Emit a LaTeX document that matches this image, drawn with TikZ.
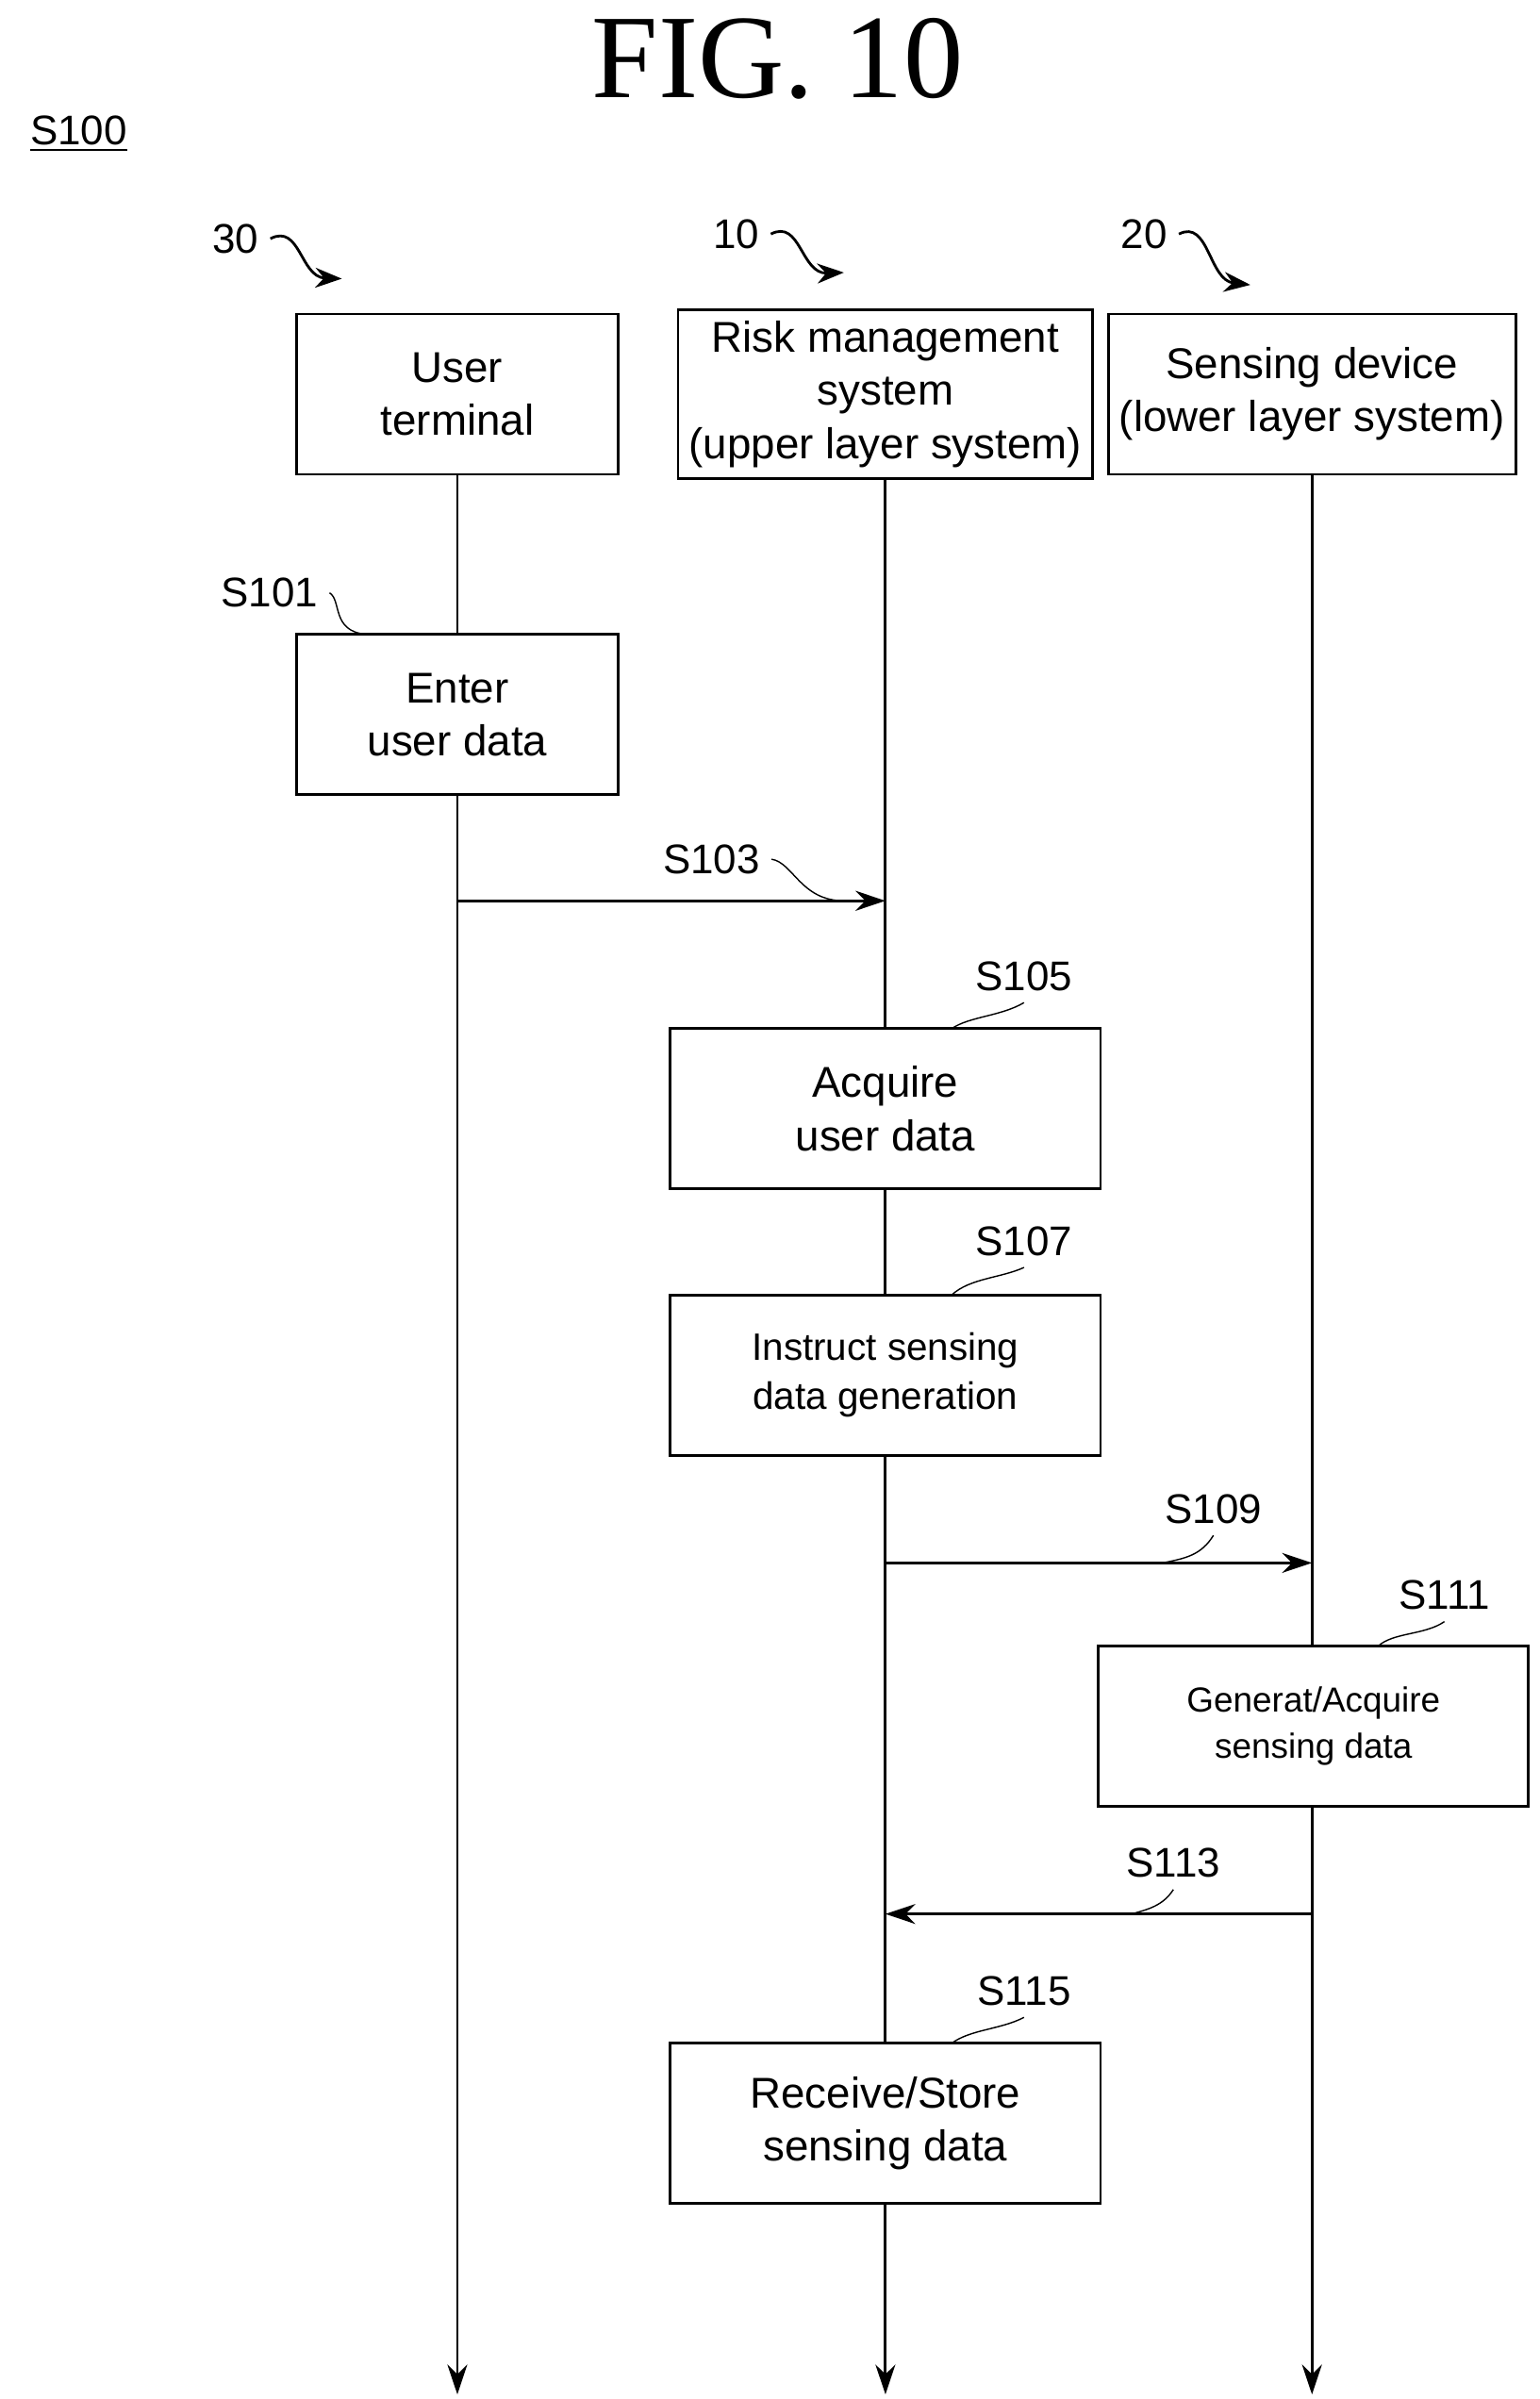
\documentclass[tikz,border=0pt]{standalone}
\usepackage{fontspec}
\setmainfont{Liberation Serif}
\setsansfont{Liberation Sans}
\usetikzlibrary{positioning, calc, arrows.meta}

\tikzset{
	box/.style={draw, thick, minimum width=3.41cm, minimum height=1.70cm, align=center, font=\sffamily\fontsize{13}{16}\selectfont},
	wbox/.style={box, minimum width=4.56cm},
	hbox/.style={box, minimum width=3.98cm},
	lab/.style={font=\sffamily\fontsize{12.5}{15}\selectfont},
	life/.style={thick, -{Stealth[length=9pt,width=6pt]}},
	msg/.style={thick, -{Stealth[length=9pt,width=6pt]}},
	lead/.style={thin}
}

\begin{document}
\begin{tikzpicture}[x=0.01633cm, y=-0.01633cm]
	\useasboundingbox (0,0) rectangle (1000,1558);
	\node[font=\fontsize{36}{40}\selectfont] (title) at (505,38) {FIG. 10};
	\node[lab, anchor=west] (s100) at (12,87) {\underline{S100}};

	% lanes
	\node[box]  (user) at (297,256) {User\\terminal};
	\node[hbox] (risk) at (575,256) {Risk management\\system\\(upper layer system)};
	\node[hbox] (sens) at (852,256) {Sensing device\\(lower layer system)};

	\node[lab] (n30) at (153,155) {30};
	\node[lab] (n10) at (478,152) {10};
	\node[lab] (n20) at (743,152) {20};
	\coordinate (p30) at (222,181);
	\coordinate (p10) at (548,177);
	\coordinate (p20) at (812,185);
	\draw[thick, -{Stealth[length=8pt,width=6pt]}] (n30.east) .. controls (195,145) and (195,180) .. (p30);
	\draw[thick, -{Stealth[length=8pt,width=6pt]}] (n10.east) .. controls (520,142) and (520,178) .. (p10);
	\draw[thick, -{Stealth[length=8pt,width=6pt]}] (n20.east) .. controls (785,142) and (785,182) .. (p20);

	\coordinate (e30) at (297,1555);
	\coordinate (e10) at (575,1555);
	\coordinate (e20) at (852,1555);
	\draw[life] (user.south) -- (e30);
	\draw[life] (risk.south) -- (e10);
	\draw[life] (sens.south) -- (e20);

	% steps
	\node[box, fill=white]  (enter) at (297,464) {Enter\\user data};
	\node[wbox, fill=white] (acq)   at (575,720) {Acquire\\user data};
	\node[wbox, fill=white, font=\sffamily\fontsize{11.5}{15}\selectfont] (inst) at (575,893) {Instruct sensing\\data generation};
	\node[wbox, fill=white, font=\sffamily\fontsize{10.5}{14}\selectfont] (gen)  at (853,1121) {Generat/Acquire\\sensing data};
	\node[wbox, fill=white] (recv)  at (575,1379) {Receive/Store\\sensing data};

	\coordinate (a1) at (297,585);  \coordinate (b1) at (575,585);
	\coordinate (a2) at (575,1015); \coordinate (b2) at (852,1015);
	\coordinate (a3) at (852,1243); \coordinate (b3) at (575,1243);
	\draw[msg] (a1) -- (b1);
	\draw[msg] (a2) -- (b2);
	\draw[msg] (a3) -- (b3);

	% step labels
	\node[lab] (s101) at (175,385) {S101};
	\node[lab] (s103) at (462,558) {S103};
	\node[lab] (s105) at (665,634) {S105};
	\node[lab] (s107) at (665,806) {S107};
	\node[lab] (s109) at (788,980) {S109};
	\node[lab] (s111) at (938,1036) {S111};
	\node[lab] (s113) at (762,1210) {S113};
	\node[lab] (s115) at (665,1293) {S115};
	\draw[lead] (s101.east) .. controls (222,390) and (215,410) .. (238,412);
	\draw[lead] (s103.east) .. controls (515,560) and (520,585) .. (548,585);
	\draw[lead] (s105.south) .. controls (650,660) and (630,660) .. (618,668);
	\draw[lead] (s107.south) .. controls (650,830) and (630,830) .. (618,841);
	\draw[lead] (s109.south) .. controls (780,1010) and (770,1012) .. (755,1015);
	\draw[lead] (s111.south) .. controls (925,1062) and (905,1060) .. (895,1069);
	\draw[lead] (s113.south) .. controls (755,1238) and (745,1240) .. (735,1243);
	\draw[lead] (s115.south) .. controls (650,1318) and (630,1318) .. (618,1327);
\end{tikzpicture}
\end{document}
